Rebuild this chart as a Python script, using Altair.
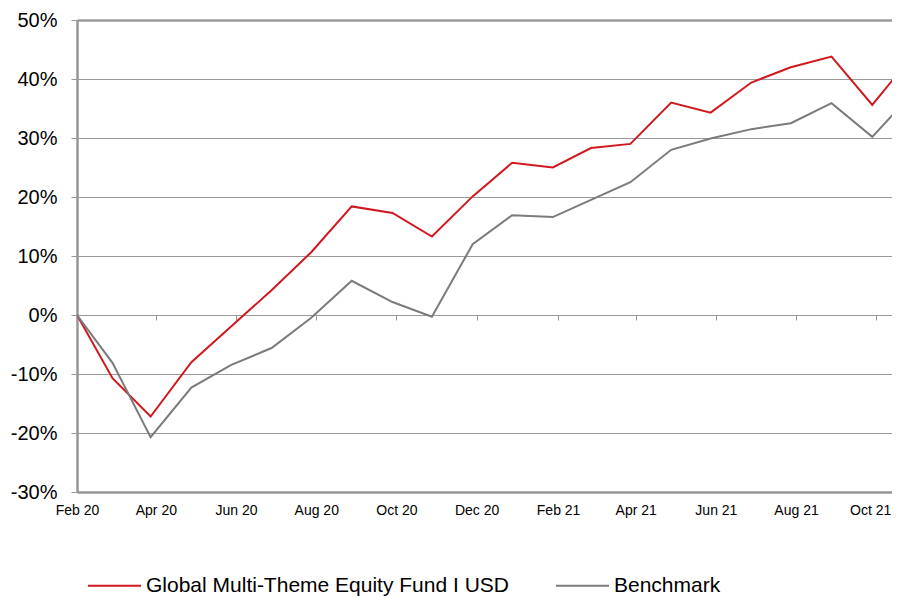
import altair as alt
import pandas as pd

# ---- data ----
dates = ["2020-02-01", "2020-02-28", "2020-03-28", "2020-04-28", "2020-05-28",
         "2020-06-28", "2020-07-28", "2020-08-28", "2020-09-28", "2020-10-28",
         "2020-11-28", "2020-12-28", "2021-01-28", "2021-02-26", "2021-03-28",
         "2021-04-28", "2021-05-28", "2021-06-28", "2021-07-28", "2021-08-28",
         "2021-09-28", "2021-10-28"]
fund = [0, -10.7, -17.2, -8.0, -2.0, 4.2, 10.6, 18.4, 17.3, 13.3, 20.1,
        25.8, 25.0, 28.3, 29.0, 36.0, 34.3, 39.4, 42.0, 43.8, 35.6, 43.8]
bench = [0, -8.1, -20.7, -12.3, -8.5, -5.6, -0.5, 5.8, 2.2, -0.3, 12.0,
         16.9, 16.6, 19.5, 22.5, 28.0, 29.9, 31.5, 32.5, 35.9, 30.2, 37.4]
series_names = ["Global Multi-Theme Equity Fund I USD", "Benchmark"]
series_colors = ["#d0181e", "#7b7b7b"]
y_ticks = [-30, -20, -10, 0, 10, 20, 30, 40, 50]
tick_months = [(2020, 2), (2020, 4), (2020, 6), (2020, 8), (2020, 10), (2020, 12),
               (2021, 2), (2021, 4), (2021, 6), (2021, 8), (2021, 10)]

n = len(dates)
df = pd.DataFrame({
    "date": pd.to_datetime(dates + dates),
    "value": fund + bench,
    "series": [series_names[0]] * n + [series_names[1]] * n,
})

font = "Liberation Sans"
border = "#969696"
x_domain = [alt.DateTime(year=2020, month=2, date=1),
            alt.DateTime(year=2021, month=10, date=13)]
tick_vals = [alt.DateTime(year=y, month=m, date=1) for y, m in tick_months]
y_scale = alt.Scale(domain=[-30, 50], nice=False, zero=False)

y_axis = alt.Axis(
    values=y_ticks, labelExpr="datum.value + '%'", title=None,
    labelFont=font, labelFontSize=20, labelColor="black", labelPadding=14,
    tickSize=6, tickColor=border, tickWidth=1,
    domainColor=border, domainWidth=2.5,
    gridColor="#9a9a9a",
    gridWidth={"condition": {"test": "datum.value == 50", "value": 2.5}, "value": 1},
)

lines = alt.Chart(df).mark_line(clip=True, strokeWidth=2).encode(
    x=alt.X("date:T", scale=alt.Scale(domain=x_domain),
            axis=alt.Axis(values=tick_vals, format="%b %y", title=None,
                          labelFont=font, labelFontSize=14, labelColor="black",
                          labelPadding=11, ticks=False, grid=False,
                          domainColor=border, domainWidth=2.5,
                          labelOffset={"condition": {"test": "year(datum.value) == 2021 && month(datum.value) == 9",
                                                     "value": -6}, "value": 0},
                          labelFlush=False, labelOverlap=False, labelBound=False)),
    y=alt.Y("value:Q", scale=y_scale, axis=y_axis),
    color=alt.Color("series:N", sort=series_names,
                    scale=alt.Scale(domain=series_names, range=series_colors),
                    legend=alt.Legend(title=None, orient="none", legendX=10, legendY=538,
                                      direction="horizontal", symbolType="stroke",
                                      symbolSize=2809, symbolStrokeWidth=2,
                                      labelFont=font, labelFontSize=21, labelColor="black",
                                      labelOffset=4, columnPadding=43, padding=0,
                                      labelLimit=0)),
)

ticks = alt.Chart(df).mark_point(opacity=0).encode(
    x=alt.X("date:T", scale=alt.Scale(domain=x_domain),
            axis=alt.Axis(values=tick_vals, orient="bottom", offset=-177, title=None,
                          labels=False, domain=False, ticks=True, tickSize=5,
                          tickColor=border, tickWidth=1, grid=False)),
    y=alt.value(0),
)

chart = alt.layer(lines, ticks).resolve_scale(x="independent").properties(
    width=815, height=472,
    autosize=alt.AutoSizeParams(type="none"),
    padding={"left": 69, "top": 12, "right": 0, "bottom": 104},
    background="white",
).configure_view(stroke=None)

chart.save("out.html", embed_options={"renderer": "svg", "actions": False})
